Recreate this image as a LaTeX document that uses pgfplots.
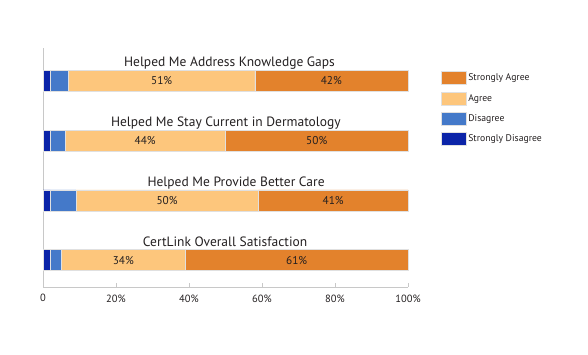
\documentclass[border=0pt]{standalone}
\usepackage{pgfplots}
\pgfplotsset{compat=1.18}
\usepackage{fontspec}
\setmainfont{PT Sans}
\definecolor{sa}{HTML}{E3822C}
\definecolor{ag}{HTML}{FDC67C}
\definecolor{di}{HTML}{4479C9}
\definecolor{sd}{HTML}{0B24A8}
\definecolor{axgray}{HTML}{C8C8C8}
\definecolor{txt}{HTML}{231F20}
\tikzset{blab/.style={font=\fontsize{11.3bp}{13bp}\selectfont, text=txt},
  ttl/.style={anchor=base, font=\fontsize{13.5bp}{15bp}\selectfont, text=txt}}
\begin{document}
\begin{tikzpicture}
\path[use as bounding box] (0,0) rectangle (588bp,355bp);
\begin{axis}[
  at={(43bp,68bp)}, anchor=south west,
  scale only axis, width=365bp, height=239bp,
  xbar stacked, bar width=21bp,
  xmin=0, xmax=100, ymin=-0.45, ymax=3.55,
  axis x line=bottom, axis y line=left,
  axis line style={draw=axgray, line width=0.8bp, -},
  ytick=\empty,
  xtick={0,20,40,60,80,100},
  xticklabels={0,20\%,40\%,60\%,80\%,100\%},
  tick align=inside, major tick length=4bp,
  tick style={draw=axgray, line width=0.8bp},
  x tick label style={font=\fontsize{10.5bp}{12bp}\selectfont, text=txt, yshift=-4bp},
  clip=false,
  legend style={draw=none, fill=none, at={(1.09,0.903)}, anchor=north west,
    font=\fontsize{9.7bp}{12bp}\selectfont, text=txt, inner sep=0pt,
    row sep=7bp, /tikz/every even column/.append style={column sep=8bp}},
  legend cell align=left,
  legend image code/.code={\fill[#1] (0bp,-6.5bp) rectangle (25bp,6.5bp);},
  reverse legend,
]
\addplot[fill=sd, draw=white!88!black, line width=0.3bp] coordinates {(2,3) (2,2) (2,1) (2,0)};
\addlegendentry{Strongly Disagree}
\addplot[fill=di, draw=white!88!black, line width=0.3bp] coordinates {(5,3) (4,2) (7,1) (3,0)};
\addlegendentry{Disagree}
\addplot[fill=ag, draw=white!88!black, line width=0.3bp] coordinates {(51,3) (44,2) (50,1) (34,0)};
\addlegendentry{Agree}
\addplot[fill=sa, draw=white!88!black, line width=0.3bp] coordinates {(42,3) (50,2) (41,1) (61,0)};
\addlegendentry{Strongly Agree}

\coordinate (a3) at (axis cs:32.5,3);
\coordinate (b3) at (axis cs:79,3);
\coordinate (a2) at (axis cs:28,2);
\coordinate (b2) at (axis cs:75,2);
\coordinate (a1) at (axis cs:34,1);
\coordinate (b1) at (axis cs:79.5,1);
\coordinate (a0) at (axis cs:22,0);
\coordinate (b0) at (axis cs:69.5,0);
\node[ttl] at (axis cs:51.1,3.235) {Helped Me Address Knowledge Gaps};
\node[ttl] at (axis cs:50.1,2.235) {Helped Me Stay Current in Dermatology};
\node[ttl] at (axis cs:52.9,1.235) {Helped Me Provide Better Care};
\node[ttl] at (axis cs:49.9,0.235) {CertLink Overall Satisfaction};
\end{axis}
\node[blab] at (a3) {51\%};
\node[blab] at (b3) {42\%};
\node[blab] at (a2) {44\%};
\node[blab] at (b2) {50\%};
\node[blab] at (a1) {50\%};
\node[blab] at (b1) {41\%};
\node[blab] at (a0) {34\%};
\node[blab] at (b0) {61\%};
\end{tikzpicture}
\end{document}
